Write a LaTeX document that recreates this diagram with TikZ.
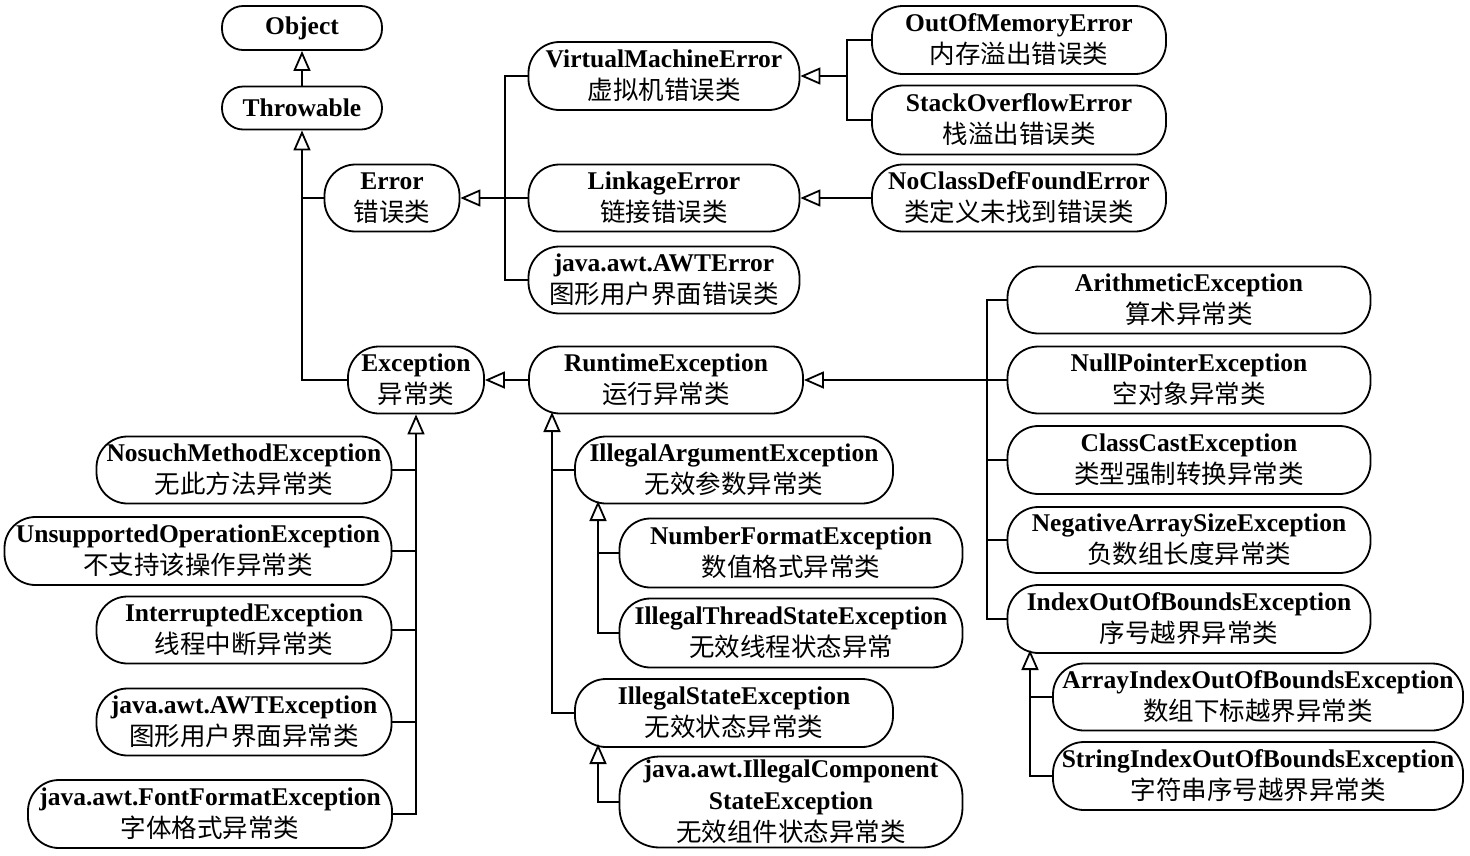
\documentclass[tikz,border=0pt]{standalone}
\usepackage{fontspec}
\setmainfont{Liberation Serif}
\newfontfamily\cjk{Noto Sans CJK SC}
\usetikzlibrary{arrows.meta}
\newcommand{\twol}[2]{{\bfseries #1}\\{\cjk #2}}
\tikzset{
  cls/.style={draw, line width=1.8pt, rounded corners=31pt, align=center, inner sep=0pt,
    font=\fontsize{25.5}{32}\selectfont},
  sz/.style 2 args={minimum width=#1pt, minimum height=#2pt},
  conn/.style={line width=1.8pt},
  inh/.style={line width=1.8pt, -{Triangle[open, length=20pt, width=17pt, line width=1.8pt]}}
}
\begin{document}
\begin{tikzpicture}[x=1pt,y=-1pt]
\useasboundingbox (0,0) rectangle (1470,855);
% nodes
\node[cls, sz={160}{44}, rounded corners=21pt] (Object) at (302,28) {\bfseries Object};
\node[cls, sz={160}{43}, rounded corners=21pt] (Throwable) at (302,108) {\bfseries Throwable};
\node[cls, sz={135}{67}] (Error) at (392,198) {\twol{Error}{错误类}};
\node[cls, sz={271}{68}] (VME) at (664,76) {\twol{VirtualMachineError}{虚拟机错误类}};
\node[cls, sz={294}{68}] (OOM) at (1019,40) {\twol{OutOfMemoryError}{内存溢出错误类}};
\node[cls, sz={294}{69}] (SOE) at (1019,120) {\twol{StackOverflowError}{栈溢出错误类}};
\node[cls, sz={271}{67}] (Linkage) at (664,198) {\twol{LinkageError}{链接错误类}};
\node[cls, sz={294}{67}] (NoClass) at (1019,198) {\twol{NoClassDefFoundError}{类定义未找到错误类}};
\node[cls, sz={271}{67}] (AWTError) at (664,280) {\twol{java.awt.AWTError}{图形用户界面错误类}};
\node[cls, sz={136}{67}] (Exception) at (416,380) {\twol{Exception}{异常类}};
\node[cls, sz={274}{67}] (Runtime) at (666,380) {\twol{RuntimeException}{运行异常类}};
\node[cls, sz={363}{67}] (Arith) at (1189,300) {\twol{ArithmeticException}{算术异常类}};
\node[cls, sz={363}{67}] (NullP) at (1189,380) {\twol{NullPointerException}{空对象异常类}};
\node[cls, sz={363}{68}] (ClassCast) at (1189,460) {\twol{ClassCastException}{类型强制转换异常类}};
\node[cls, sz={363}{66}] (Negative) at (1189,540) {\twol{NegativeArraySizeException}{负数组长度异常类}};
\node[cls, sz={363}{68}] (IndexOOB) at (1189,619) {\twol{IndexOutOfBoundsException}{序号越界异常类}};
\node[cls, sz={410}{67}] (ArrayIdx) at (1258,697) {\twol{ArrayIndexOutOfBoundsException}{数组下标越界异常类}};
\node[cls, sz={410}{68}] (StringIdx) at (1258,776) {\twol{StringIndexOutOfBoundsException}{字符串序号越界异常类}};
\node[cls, sz={295}{67}] (Nosuch) at (244,470) {\twol{NosuchMethodException}{无此方法异常类}};
\node[cls, sz={387}{68}] (Unsupported) at (198,551) {\twol{UnsupportedOperationException}{不支持该操作异常类}};
\node[cls, sz={295}{67}] (Interrupted) at (244,630) {\twol{InterruptedException}{线程中断异常类}};
\node[cls, sz={295}{67}] (AWTException) at (244,722) {\twol{java.awt.AWTException}{图形用户界面异常类}};
\node[cls, sz={364}{68}] (FontFormat) at (210,814) {\twol{java.awt.FontFormatException}{字体格式异常类}};
\node[cls, sz={318}{67}] (IllegalArg) at (734,470) {\twol{IllegalArgumentException}{无效参数异常类}};
\node[cls, sz={343}{69}] (NumberFormat) at (791,553) {\twol{NumberFormatException}{数值格式异常类}};
\node[cls, sz={343}{69}] (IllegalThread) at (791,633) {\twol{IllegalThreadStateException}{无效线程状态异常}};
\node[cls, sz={318}{68}] (IllegalState) at (734,713) {\twol{IllegalStateException}{无效状态异常类}};
\node[cls, sz={343}{91}, rounded corners=40pt] (IllegalComp) at (791,802) {{\bfseries java.awt.IllegalComponent}\\{\bfseries StateException}\\{\cjk 无效组件状态异常类}};
% junction coordinates
\coordinate (ebus) at (505,198);
\coordinate (vbus) at (847,76);
\coordinate (rbus) at (987,380);
\coordinate (rtb) at (552,412);
\coordinate (iab) at (598,501);
\coordinate (isb) at (598,744);
\coordinate (ixb) at (1030,650);
% connectors
\draw[inh] (Throwable.north) -- (Object.south);
\draw[inh] (Exception.west) -| (Throwable.south);
\draw[conn] (Error.west) -- (Error.west -| Throwable.south);
\draw[inh] (Linkage.west) -- (Error.east);
\draw[conn] (VME.west) -| (ebus) |- (AWTError.west);
\draw[inh] (vbus) -- (VME.east);
\draw[conn] (OOM.west) -| (vbus) |- (SOE.west);
\draw[inh] (NoClass.west) -- (Linkage.east);
\draw[inh] (Runtime.west) -- (Exception.east);
\draw[inh] (FontFormat.east) -| (Exception.south);
\draw[conn] (Nosuch.east) -- (Nosuch.east -| Exception.south);
\draw[conn] (Unsupported.east) -- (Unsupported.east -| Exception.south);
\draw[conn] (Interrupted.east) -- (Interrupted.east -| Exception.south);
\draw[conn] (AWTException.east) -- (AWTException.east -| Exception.south);
\draw[inh] (NullP.west) -- (Runtime.east);
\draw[conn] (Arith.west) -| (rbus) |- (IndexOOB.west);
\draw[conn] (ClassCast.west) -- (ClassCast.west -| rbus);
\draw[conn] (Negative.west) -- (Negative.west -| rbus);
\draw[inh] (IllegalState.west) -| (rtb);
\draw[conn] (IllegalArg.west) -- (IllegalArg.west -| rtb);
\draw[inh] (IllegalThread.west) -| (iab);
\draw[conn] (NumberFormat.west) -- (NumberFormat.west -| iab);
\draw[inh] (IllegalComp.west) -| (isb);
\draw[inh] (StringIdx.west) -| (ixb);
\draw[conn] (ArrayIdx.west) -- (ArrayIdx.west -| ixb);
\end{tikzpicture}
\end{document}
